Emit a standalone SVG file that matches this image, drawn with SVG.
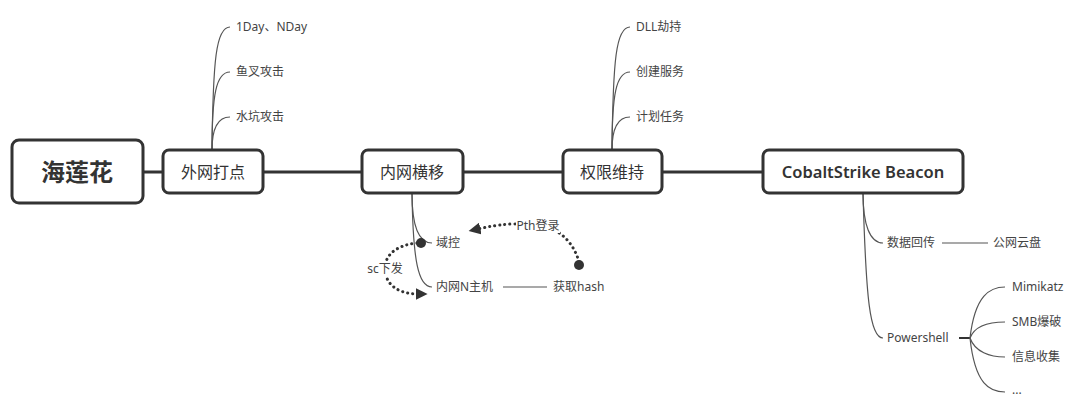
<svg xmlns="http://www.w3.org/2000/svg" width="1080" height="407" viewBox="0 0 1080 407">
<defs>
<style>
.box{fill:#fff;stroke:#333;stroke-width:3}
.main{stroke:#333;stroke-width:3;fill:none}
.br{stroke:#555;stroke-width:1.2;fill:none}
.dot{stroke:#333;stroke-width:3;fill:none;stroke-dasharray:0.1 5;stroke-linecap:round}
.t{font-family:"Noto Sans","Noto Sans CJK SC",sans-serif;fill:#444;font-size:12px}
.bt{font-family:"Noto Sans","Noto Sans CJK SC",sans-serif;fill:#333;font-size:16px;text-anchor:middle}
</style>
<marker id="ah" viewBox="0 0 10 10" refX="2" refY="5" markerWidth="4" markerHeight="4" orient="auto" markerUnits="strokeWidth">
<path d="M0,0 L10,5 L0,10 z" fill="#333"/>
</marker>
</defs>
<rect width="1080" height="407" fill="#fff"/>
<g id="connectors">
<path class="main" d="M143 172 H163 M263 172 H362 M463 172 H563 M662 172 H763"/>
<path class="br" d="M212 150 C213 60 216 27 230 27"/>
<path class="br" d="M212 150 C212 95 216 72 230 72"/>
<path class="br" d="M212 150 C212 130 217 117 230 117"/>
<path class="br" d="M612 150 C613 60 616 27 630 27"/>
<path class="br" d="M612 150 C612 95 616 72 630 72"/>
<path class="br" d="M612 150 C612 130 617 117 630 117"/>
<path class="br" d="M412 193 C412 225 418 243 432 243"/>
<path class="br" d="M412 193 C413 260 418 287 432 287"/>
<path class="br" d="M503 287 H547"/>
<path class="br" d="M863 193 C863 225 870 243 883 243"/>
<path class="br" d="M942 243 H988"/>
<path class="br" d="M863 193 C866 300 870 338 883 338"/>
<path class="main" style="stroke-width:2" d="M959 338 H970"/>
<path class="br" d="M970 338 C975 295 990 287 1005 287"/>
<path class="br" d="M970 338 C975 325 990 322 1005 322"/>
<path class="br" d="M970 338 C975 352 990 357 1005 357"/>
<path class="br" d="M970 338 C975 385 990 392 1005 392"/>
<circle cx="421" cy="243" r="5" fill="#333"/>
<circle cx="579" cy="265" r="5" fill="#333"/>
<path class="dot" d="M579 262 C573 240 556 225 530 224 C505 223 492 226 478 229" marker-end="url(#ah)"/>
<path class="dot" d="M417 243 C398 245 384 254 385 270 C386 286 400 294 418 294" marker-end="url(#ah)"/>
<rect x="516" y="218" width="44" height="15" fill="#fff"/>
<text class="t" x="538" y="230" text-anchor="middle">Pth登录</text>
<rect x="367" y="261" width="37" height="15" fill="#fff"/>
<text class="t" x="385" y="273" text-anchor="middle">sc下发</text>
</g>
<g id="root">
<rect class="box" x="12" y="140" width="131" height="63" rx="7"/>
<text class="bt" x="77" y="181" style="font-size:24px;font-weight:bold">海莲花</text>
</g>
<g id="n1">
<rect class="box" x="163" y="150" width="100" height="43" rx="6"/>
<text class="bt" x="213" y="178">外网打点</text>
</g>
<g id="n1a"><text class="t" x="236" y="31">1Day、NDay</text></g>
<g id="n1b"><text class="t" x="236" y="76">鱼叉攻击</text></g>
<g id="n1c"><text class="t" x="236" y="121">水坑攻击</text></g>
<g id="n2">
<rect class="box" x="362" y="150" width="101" height="43" rx="6"/>
<text class="bt" x="412" y="178">内网横移</text>
</g>
<g id="n2a"><text class="t" x="436" y="247">域控</text></g>
<g id="n2b"><text class="t" x="436" y="291">内网N主机</text></g>
<g id="n2c"><text class="t" x="553" y="291">获取hash</text></g>
<g id="n3">
<rect class="box" x="563" y="150" width="99" height="43" rx="6"/>
<text class="bt" x="612" y="178">权限维持</text>
</g>
<g id="n3a"><text class="t" x="636" y="31">DLL劫持</text></g>
<g id="n3b"><text class="t" x="636" y="76">创建服务</text></g>
<g id="n3c"><text class="t" x="636" y="121">计划任务</text></g>
<g id="n4">
<rect class="box" x="763" y="150" width="200" height="43" rx="6"/>
<text class="bt" x="863" y="178" style="font-size:16.5px;font-weight:600">CobaltStrike Beacon</text>
</g>
<g id="n4a"><text class="t" x="887" y="247">数据回传</text></g>
<g id="n4b"><text class="t" x="993" y="247">公网云盘</text></g>
<g id="n4c"><text class="t" x="887" y="342">Powershell</text></g>
<g id="n5a"><text class="t" x="1012" y="291">Mimikatz</text></g>
<g id="n5b"><text class="t" x="1012" y="326">SMB爆破</text></g>
<g id="n5c"><text class="t" x="1012" y="361">信息收集</text></g>
<g id="n5d"><text class="t" x="1012" y="394">...</text></g>
</svg>
